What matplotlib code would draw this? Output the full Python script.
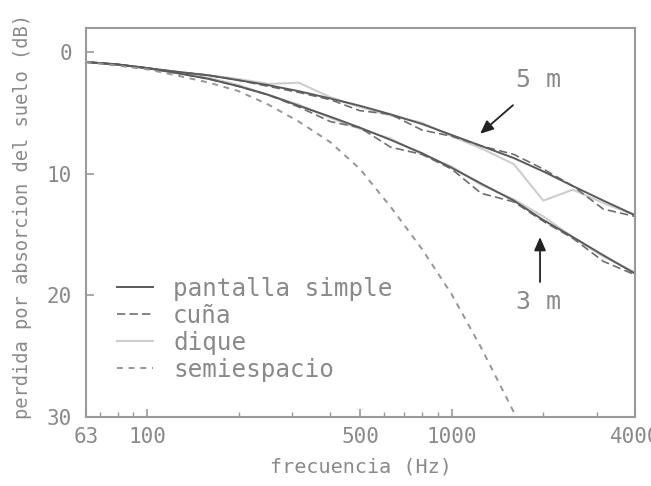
import numpy as np
import matplotlib
matplotlib.use("Agg")
import matplotlib.pyplot as plt

# bandas de tercio de octava (Hz)
freqs = [63, 80, 100, 125, 160, 200, 250, 315, 400, 500, 630, 800, 1000,
         1250, 1600, 2000, 2500, 3150, 4000]

# perdida por absorcion del suelo (dB), receptor a 5 m
pantalla_5m = [0.8, 1.0, 1.3, 1.6, 1.9, 2.3, 2.7, 3.2, 3.8, 4.4, 5.1, 5.9, 6.8,
               7.7, 8.7, 9.8, 11.0, 12.2, 13.4]
cuna_5m = [0.8, 1.0, 1.3, 1.6, 1.9, 2.3, 2.8, 3.3, 3.9, 4.8, 5.1, 6.4, 6.9,
           7.7, 8.4, 9.6, 11.0, 12.9, 13.5]
dique_5m = [0.8, 1.0, 1.3, 1.6, 1.9, 2.2, 2.6, 2.5, 3.7, 4.5, 5.2, 5.8, 6.9,
            7.9, 9.2, 12.2, 11.3, 12.4, 13.4]

# receptor a 3 m
pantalla_3m = [0.8, 1.0, 1.3, 1.7, 2.2, 2.8, 3.5, 4.4, 5.3, 6.2, 7.2, 8.3, 9.5,
               10.8, 12.2, 13.8, 15.2, 16.7, 18.2]
cuna_3m = [0.8, 1.0, 1.3, 1.7, 2.2, 2.8, 3.5, 4.5, 5.7, 6.2, 7.8, 8.4, 9.6,
           11.6, 12.3, 13.9, 15.3, 17.2, 18.3]
dique_3m = [0.8, 1.0, 1.3, 1.7, 2.1, 2.7, 3.5, 4.3, 5.4, 6.3, 7.1, 8.4, 9.4,
            10.9, 12.1, 13.5, 15.2, 16.8, 18.1]

# semiespacio (sin pantalla)
freqs_semi = freqs[:16]
semiespacio = [0.8, 1.1, 1.4, 1.9, 2.5, 3.2, 4.3, 5.7, 7.4, 9.6, 12.7, 16.2,
               19.9, 24.3, 29.6, 35.0]

xticks = [63, 100, 500, 1000, 4000]
yticks = [0, 10, 20, 30]

txt = "#8a8a8a"
mono = "DejaVu Sans Mono"

fig = plt.figure(figsize=(6.51, 4.86), dpi=100)
ax = fig.add_axes([0.1321, 0.1420, 0.8433, 0.8004])

c_ps, c_cu, c_di, c_se = "#5a5a5a", "#6e6e6e", "#cdcdcd", "#959595"

ax.plot(freqs, dique_5m, color=c_di, lw=1.5, label="dique")
ax.plot(freqs, dique_3m, color=c_di, lw=1.5)
ax.plot(freqs, cuna_5m, color=c_cu, lw=1.2, ls=(0, (5, 2.5)), label="cuña")
ax.plot(freqs, cuna_3m, color=c_cu, lw=1.2, ls=(0, (5, 2.5)))
ax.plot(freqs, pantalla_5m, color=c_ps, lw=1.4, label="pantalla simple")
ax.plot(freqs, pantalla_3m, color=c_ps, lw=1.4)
ax.plot(freqs_semi, semiespacio, color=c_se, lw=1.4, ls=(0, (3, 3)),
        label="semiespacio")

ax.set_xscale("log")
ax.set_xlim(63, 4000)
ax.set_ylim(30, -2)
ax.set_xticks(xticks)
ax.set_xticklabels([str(v) for v in xticks])
ax.xaxis.set_minor_locator(matplotlib.ticker.LogLocator(base=10, subs=np.arange(2, 10)))
ax.xaxis.set_minor_formatter(matplotlib.ticker.NullFormatter())
ax.set_yticks(yticks)
ax.set_yticklabels([str(v) for v in yticks])

ax.tick_params(which="major", direction="in", length=6, width=1.2, color="#9a9a9a",
               labelcolor=txt)
ax.tick_params(axis="x", which="major", pad=7)
ax.tick_params(axis="y", which="major", pad=10)
ax.tick_params(which="minor", direction="in", length=3.5, width=1.0, color="#9a9a9a")
for lab in ax.get_xticklabels() + ax.get_yticklabels():
    lab.set_fontfamily(mono)
    lab.set_fontsize(15)
for sp in ax.spines.values():
    sp.set_color("#9a9a9a")
    sp.set_linewidth(1.5)

ax.set_xlabel("frecuencia (Hz)", family=mono, fontsize=14.5, color=txt)
ax.set_ylabel("perdida por absorcion del suelo (dB)", family=mono, fontsize=13.5,
              color=txt)
ax.xaxis.set_label_coords(0.5, -0.105)
ax.yaxis.set_label_coords(-0.098, 0.515)

# etiquetas de distancia con flechas
arrow = dict(arrowstyle="-|>,head_length=0.8,head_width=0.35", color="#222222", lw=1.3,
             shrinkA=0, shrinkB=0)
ax.annotate("", xy=(1240, 6.7), xytext=(1590, 4.35), arrowprops=arrow)
ax.annotate("", xy=(1951, 15.2), xytext=(1951, 18.9), arrowprops=arrow)
ax.text(1935, 2.3, "5 m", family=mono, fontsize=18, color=txt, ha="center", va="center")
ax.text(1935, 20.5, "3 m", family=mono, fontsize=18, color=txt, ha="center", va="center")

handles, labels = ax.get_legend_handles_labels()
order = [labels.index(n) for n in ["pantalla simple", "cuña", "dique", "semiespacio"]]
leg = ax.legend([handles[i] for i in order], [labels[i] for i in order],
                loc="upper left", bbox_to_anchor=(0.056, 0.36), frameon=False,
                prop={"family": mono, "size": 17.5}, labelcolor=txt,
                handlelength=1.5, handletextpad=0.82, labelspacing=0.12,
                borderpad=0, borderaxespad=0)

fig.savefig("out.png", dpi=100)
